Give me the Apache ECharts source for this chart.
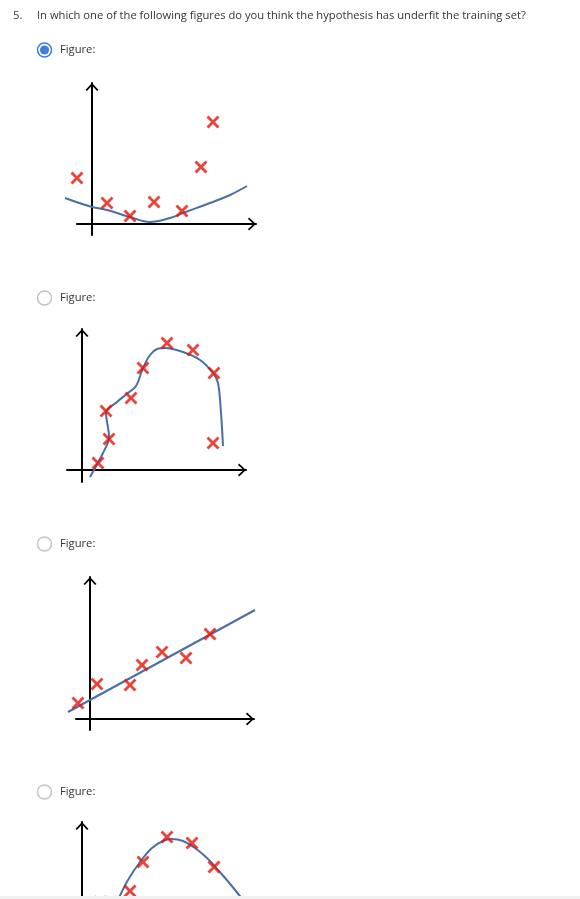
<!DOCTYPE html>
<html><head><meta charset="utf-8">
<script src="https://cdn.jsdelivr.net/npm/echarts@6/dist/echarts.min.js"></script>
<style>html,body{margin:0;padding:0;background:#fff}#c{width:580px;height:899px}</style>
</head><body><div id="c"></div>
<script>
// ---- texts ----
const questionNumber = '5.';
const questionText = 'In which one of the following figures do you think the hypothesis has underfit the training set?';
const optionLabels = ['Figure:', 'Figure:', 'Figure:', 'Figure:'];
const selectedOption = 0;

// ---- figure 1 (underfit: shallow quadratic) ----
const fig1Points = [[-15,46],[15,21],[38,8],[62,22],[90,13],[109,57],[121,102]];
const fig1Curve  = [[-27,26],[0,17],[15,14],[38,7],[58,2],[78,6],[91,11],[118,21],[138,29],[155,38]];

// ---- figure 2 (overfit: wiggly curve) ----
const fig2Points = [[16,7],[27,31],[24,59],[49,72],[61,102],[85,127],[111,120],[132,97],[131,27]];
const fig2Curve  = [[8,-7],[21,17],[27,33],[24,57],[35,68],[46,77],[54,84],[61,102],[68,115],[75,121],[83,122],[101,118],[118,110],[131,97],[136,87],[139,57],[141,24]];

// ---- figure 3 (straight line) ----
const fig3Points = [[-12,16],[7,35],[40,34],[52,54],[72,67],[96,61],[120,85]];
const fig3Line   = [[-22,7],[165,109]];

// ---- figure 4 (parabola, cut off at the bottom of the page) ----
const fig4Points = [[18,61],[29,61],[48,72],[61,101],[85,126],[110,120],[132,96]];
const fig4Curve  = [[36,63],[46,83],[58,101],[70,115],[81,122],[90,124],[101,122],[113,115],[125,105],[137,92],[149,78],[161,63]];

const figures = [
  {points: fig1Points, curve: fig1Curve, smooth: 0.4},
  {points: fig2Points, curve: fig2Curve, smooth: 0.35},
  {points: fig3Points, curve: fig3Line,  smooth: false},
  {points: fig4Points, curve: fig4Curve, smooth: 0.4}
];

// layout (pixels) and axis extents
const layouts = [
  {left: 77, top: 83,  width: 179, height: 152, xmin: -15, xmax: 164, ymin: -11, ymax: 141, xLine: true},
  {left: 67, top: 329, width: 179, height: 153, xmin: -15, xmax: 164, ymin: -12, ymax: 141, xLine: true},
  {left: 76, top: 577, width: 178, height: 153, xmin: -14, xmax: 164, ymin: -11, ymax: 142, xLine: true},
  {left: 67, top: 822, width: 179, height: 76,  xmin: -15, xmax: 164, ymin: 65,  ymax: 141, xLine: false}
];
const optionY = [50, 298, 544, 792];
const PAD = 20; // extra room (same scale) for the data grid so curves are not cut at the axes

const CROSS = 'path://M0,2L2,0L6.5,4.5L11,0L13,2L8.5,6.5L13,11L11,13L6.5,8.5L2,13L0,11L4.5,6.5Z';
const CHEVRON = 'path://M0,7L6.5,0L13,7L11.6,8L6.5,2.4L1.4,8Z';
const RED = '#e3150b', BLUE = '#4a6fa5', TEXT = '#333';

const hidden = {axisTick: {show: false}, axisLabel: {show: false}, splitLine: {show: false}};
const grid = [], xAxis = [], yAxis = [], series = [];
layouts.forEach((l, i) => {
  // axis grid (visible arrows)
  const ga = grid.length;
  grid.push({left: l.left, top: l.top, width: l.width, height: l.height});
  const mkLine = (show) => ({show, onZero: true, lineStyle: {color: '#000', width: 2},
    symbol: ['none', CHEVRON], symbolSize: [13, 8], symbolOffset: [0, -4]});
  xAxis.push(Object.assign({gridIndex: ga, type: 'value', min: l.xmin, max: l.xmax, axisLine: mkLine(l.xLine)}, hidden));
  yAxis.push(Object.assign({gridIndex: ga, type: 'value', min: l.ymin, max: l.ymax, axisLine: mkLine(true)}, hidden));
  // data grid: same scale, widened horizontally
  const gd = grid.length;
  grid.push({left: l.left - PAD, top: l.top, width: l.width + 2 * PAD, height: l.height});
  xAxis.push(Object.assign({gridIndex: gd, type: 'value', min: l.xmin - PAD, max: l.xmax + PAD, axisLine: {show: false}}, hidden));
  yAxis.push(Object.assign({gridIndex: gd, type: 'value', min: l.ymin, max: l.ymax, axisLine: {show: false}}, hidden));
  const f = figures[i];
  series.push({type: 'line', xAxisIndex: gd, yAxisIndex: gd, data: f.curve, smooth: f.smooth,
    showSymbol: false, clip: false, z: 2, silent: true,
    lineStyle: {color: BLUE, width: 2}});
  series.push({type: 'scatter', xAxisIndex: gd, yAxisIndex: gd, data: f.points, clip: false,
    symbol: CROSS, symbolSize: 13, z: 3, silent: true, itemStyle: {color: RED}});
});

const FONT = '11.2px "Open Sans"';
const graphic = [
  {type: 'text', left: 13, top: 10, style: {text: questionNumber, font: FONT, fill: TEXT}},
  {type: 'text', left: 37, top: 10, style: {text: questionText, font: FONT, fill: TEXT}}
];
optionY.forEach((y, i) => {
  const sel = i === selectedOption;
  graphic.push({type: 'circle', shape: {cx: 44.5, cy: y, r: 7}, style: {fill: '#fff', stroke: sel ? '#3d7fd9' : '#c4c4c4', lineWidth: 1.5}});
  if (sel) graphic.push({type: 'circle', shape: {cx: 44.5, cy: y, r: 4.5}, style: {fill: '#3d7fd9'}});
  graphic.push({type: 'text', x: 60, y: y, style: {text: optionLabels[i], font: FONT, fill: TEXT, verticalAlign: 'middle'}});
});
graphic.push({type: 'rect', shape: {x: 0, y: 896, width: 580, height: 3}, style: {fill: '#f0f0f0'}, z: 100});

const chart = echarts.init(document.getElementById('c'), null, {renderer: 'canvas'});
chart.setOption({animation: false, backgroundColor: '#fff', grid, xAxis, yAxis, series, graphic});
</script></body></html>
